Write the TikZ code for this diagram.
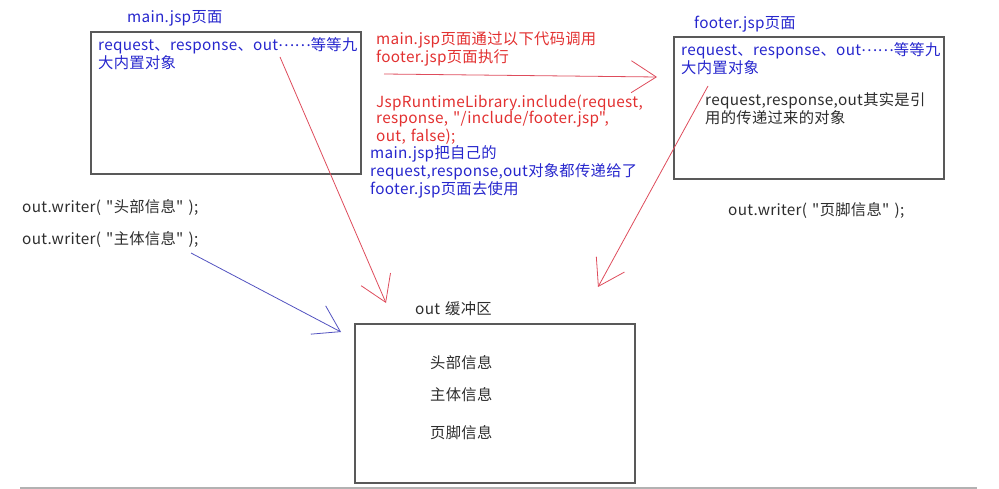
\documentclass[tikz,border=0pt]{standalone}
\usepackage{fontspec}
\setmainfont{Noto Sans CJK SC}[Ligatures=TeXOff,LetterSpace=2]
\usetikzlibrary{arrows.meta}
\definecolor{redtxt}{RGB}{226,48,48}
\definecolor{bluetxt}{RGB}{38,38,205}
\definecolor{redarr}{RGB}{222,76,92}
\definecolor{bluearr}{RGB}{82,82,192}
\definecolor{darktxt}{RGB}{45,45,45}
\newcommand\midell{\raisebox{0.3em}{……}}

\begin{document}
\begin{tikzpicture}[x=1pt,y=-1pt,
    txt/.style={anchor=base west,inner sep=0pt,text width=320pt,align=left,
      font=\fontsize{15.3}{16}\selectfont},
    box/.style={draw=black!65,line width=1.3pt,inner sep=0pt},
    arr/.style={-{Straight Barb[length=25pt,width=32pt]},line width=0.8pt}]
    \useasboundingbox (0,0) rectangle (999,489);

    \node[box,minimum width=270pt,minimum height=142pt] (mainbox) at (226,103) {};
    \node[box,minimum width=270pt,minimum height=142pt] (footbox) at (809,108) {};
    \node[box,minimum width=280pt,minimum height=159pt] (bufbox) at (495,403.5) {};

    \node[txt,bluetxt] (mainlbl) at (127,23) {main.jsp页面};
    \node[txt,bluetxt] (mainobj) at (98,51) {request、response、out\midell 等等九\\大内置对象};
    \node[txt,redtxt] (calltxt) at (376,45) {main.jsp页面通过以下代码调用\\footer.jsp页面执行};
    \node[txt,redtxt] (codetxt) at (376,108) {JspRuntimeLibrary.include(request,\\response, "/include/footer.jsp",\\out, false);};
    \node[txt,bluetxt] (passtxt) at (370,159) {main.jsp把自己的\\request,response,out对象都传递给了\\footer.jsp页面去使用};
    \node[txt,bluetxt] (footlbl) at (694,29) {footer.jsp页面};
    \node[txt,bluetxt] (footobj) at (681,56) {request、response、out\midell 等等九\\大内置对象};
    \node[txt,darktxt] (reftxt) at (705,106) {request,response,out其实是引\\用的传递过来的对象};
    \node[txt,darktxt] (headwr) at (22,213) {out.writer( "头部信息" );};
    \node[txt,darktxt] (bodywr) at (22,245) {out.writer( "主体信息" );};
    \node[txt,darktxt] (footwr) at (728,216) {out.writer( "页脚信息" );};
    \node[txt,darktxt] (buflbl) at (415,314) {out 缓冲区};
    \node[txt,darktxt] (bufhead) at (430,368) {头部信息};
    \node[txt,darktxt] (bufbody) at (430,400) {主体信息};
    \node[txt,darktxt] (buffoot) at (430,438) {页脚信息};

    \coordinate (callA) at (384,74); \coordinate (callB) at (657,77);
    \coordinate (mainout) at (280,57); \coordinate (buftipA) at (386,303);
    \coordinate (footout) at (708,86); \coordinate (buftipB) at (598,287);
    \coordinate (bodyout) at (191,253); \coordinate (buftipC) at (341,332);
    \draw[arr,redarr] (callA) -- (callB);
    \draw[arr,redarr] (mainout) -- (buftipA);
    \draw[arr,redarr] (footout) -- (buftipB);
    \draw[arr,bluearr] (bodyout) -- (buftipC);

    \coordinate (baseL) at (20,488); \coordinate (baseR) at (977,488);
    \draw[black!30,line width=3pt] (baseL) -- (baseR);
\end{tikzpicture}
\end{document}
